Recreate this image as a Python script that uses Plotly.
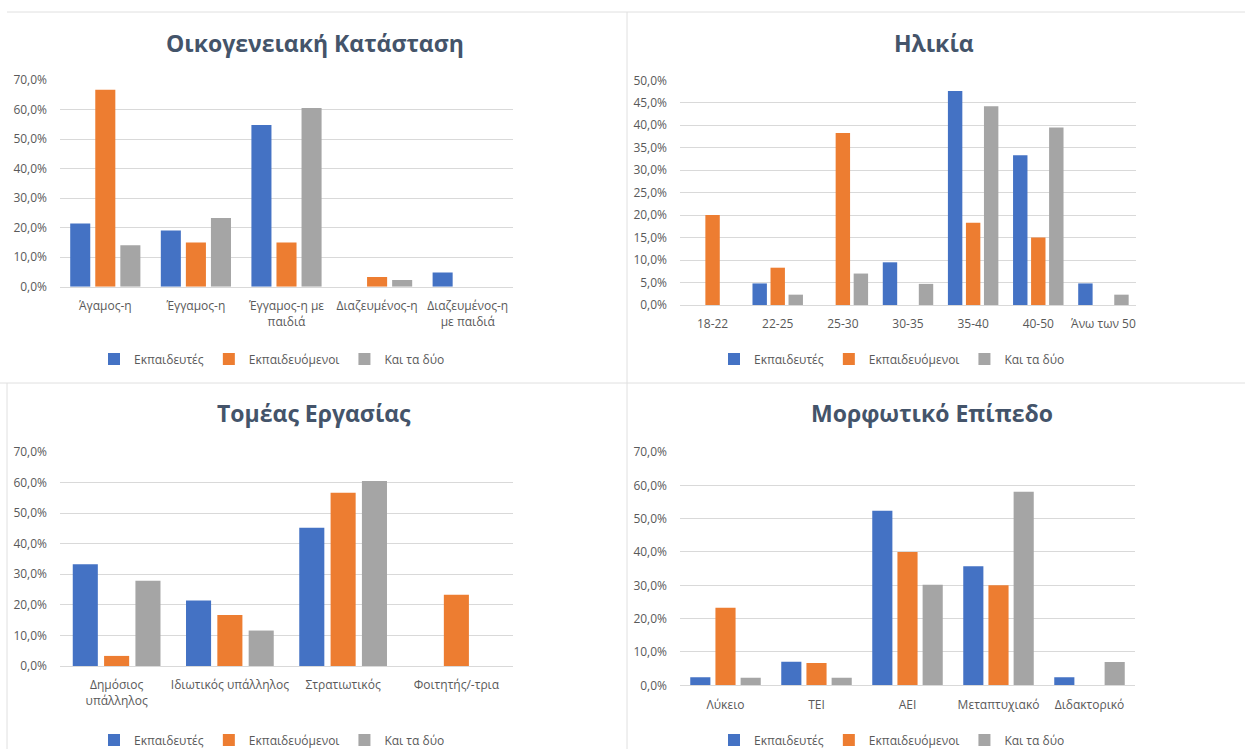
import plotly.graph_objects as go

W, H = 1245, 749

series_names = ["Εκπαιδευτές", "Εκπαιδευόμενοι", "Και τα δύο"]
colors = ["#4472C4", "#ED7D31", "#A5A5A5"]

# Chart 1: Οικογενειακή Κατάσταση
fam_title = "Οικογενειακή Κατάσταση"
fam_cats = ["Άγαμος-η", "Έγγαμος-η", "Έγγαμος-η με<br>παιδιά", "Διαζευμένος-η", "Διαζευμένος-η<br>με παιδιά"]
fam_teachers = [21.4, 19.0, 54.8, 0.0, 4.8]
fam_trainees = [66.7, 15.0, 15.0, 3.3, 0.0]
fam_both = [14.0, 23.3, 60.5, 2.3, 0.0]

# Chart 2: Ηλικία
age_title = "Ηλικία"
age_cats = ["18-22", "22-25", "25-30", "30-35", "35-40", "40-50", "Άνω των 50"]
age_teachers = [0.0, 4.8, 0.0, 9.5, 47.6, 33.3, 4.8]
age_trainees = [20.0, 8.3, 38.3, 0.0, 18.3, 15.0, 0.0]
age_both = [0.0, 2.3, 7.0, 4.7, 44.2, 39.5, 2.3]

# Chart 3: Τομέας Εργασίας
work_title = "Τομέας Εργασίας"
work_cats = ["Δημόσιος<br>υπάλληλος", "Ιδιωτικός υπάλληλος", "Στρατιωτικός", "Φοιτητής/-τρια"]
work_teachers = [33.3, 21.4, 45.2, 0.0]
work_trainees = [3.3, 16.7, 56.7, 23.3]
work_both = [27.9, 11.6, 60.5, 0.0]

# Chart 4: Μορφωτικό Επίπεδο
edu_title = "Μορφωτικό Επίπεδο"
edu_cats = ["Λύκειο", "ΤΕΙ", "ΑΕΙ", "Μεταπτυχιακό", "Διδακτορικό"]
edu_teachers = [2.4, 7.1, 52.4, 35.7, 2.4]
edu_trainees = [23.3, 6.7, 40.0, 30.0, 0.0]
edu_both = [2.3, 2.3, 30.2, 58.1, 7.0]

FONT = "Open Sans, Lato, sans-serif"
TICK_COLOR = "#595959"
GRID = "#D9D9D9"


def px_x(v):
    return min(1.0, max(0.0, v / W))


def px_y(v):
    return min(1.0, max(0.0, 1 - v / H))


# (title, cats, series, x0, x1, ytop, ybottom, ymax, dtick, title_xc, title_y, legend_xc, legend_y) in page pixels
panels = [
    (fam_title, fam_cats, [fam_teachers, fam_trainees, fam_both], 60, 513, 80, 286.7, 0.7, 0.1, 315, 43, 272, 359),
    (age_title, age_cats, [age_teachers, age_trainees, age_both], 680, 1136, 80.3, 305, 0.5, 0.05, 934, 43, 892, 359),
    (work_title, work_cats, [work_teachers, work_trainees, work_both], 60, 513, 452, 666, 0.7, 0.1, 314, 413, 272, 740),
    (edu_title, edu_cats, [edu_teachers, edu_trainees, edu_both], 680, 1135, 452, 685.3, 0.7, 0.1, 932, 413, 892, 740),
]

fig = go.Figure()
annotations = []
layout_kw = {}

for i, (title, cats, series, x0, x1, yt, yb, ymax, dtick, txc, ty, lxc, ly) in enumerate(panels):
    n = i + 1
    xa = "x" if n == 1 else f"x{n}"
    ya = "y" if n == 1 else f"y{n}"
    leg = "legend" if n == 1 else f"legend{n}"
    for name, col, vals in zip(series_names, colors, series):
        fig.add_trace(go.Bar(
            x=cats, y=[v / 100 for v in vals], name=name,
            marker=dict(color=col, line=dict(width=0)),
            xaxis=xa, yaxis=ya, legend=leg,
            hovertemplate="%{x}: %{y:.1%}<extra>" + name + "</extra>",
        ))
    xkey = "xaxis" if n == 1 else f"xaxis{n}"
    ykey = "yaxis" if n == 1 else f"yaxis{n}"
    layout_kw[xkey] = dict(
        domain=[px_x(x0), px_x(x1)], anchor=ya, type="category",
        showgrid=False, showline=True, linecolor=GRID, linewidth=1,
        ticks="", tickfont=dict(family=FONT, size=12, color=TICK_COLOR),
        ticklabelstandoff=8, fixedrange=True,
    )
    layout_kw[ykey] = dict(
        domain=[px_y(yb), px_y(yt)], anchor=xa, range=[0, ymax], dtick=dtick,
        tickformat=".1%", showgrid=True, gridcolor=GRID, gridwidth=1,
        zeroline=False, showline=False, ticks="",
        tickfont=dict(family=FONT, size=12, color=TICK_COLOR),
        ticklabelstandoff=12, fixedrange=True,
    )
    layout_kw[leg] = dict(
        orientation="h", x=px_x(lxc), y=px_y(ly), xanchor="center", yanchor="middle",
        font=dict(family=FONT, size=12, color=TICK_COLOR), bgcolor="rgba(0,0,0,0)",
        itemclick=False, itemdoubleclick=False, tracegroupgap=0,
    )
    annotations.append(dict(
        text="<b>" + title + "</b>", x=px_x(txc), y=px_y(ty), xref="paper", yref="paper",
        xanchor="center", yanchor="middle", showarrow=False,
        font=dict(family=FONT, size=23, color="#44546A"),
    ))

line_style = dict(color="#E0E0E0", width=1)
shapes = [
    dict(type="line", xref="paper", yref="paper", x0=px_x(7), x1=1, y0=px_y(12), y1=px_y(12), line=line_style),
    dict(type="line", xref="paper", yref="paper", x0=0, x1=1, y0=px_y(383), y1=px_y(383), line=line_style),
    dict(type="line", xref="paper", yref="paper", x0=px_x(627), x1=px_x(627), y0=px_y(12), y1=0, line=line_style),
    dict(type="line", xref="paper", yref="paper", x0=px_x(7), x1=px_x(7), y0=px_y(383), y1=0, line=line_style),
]

fig.update_layout(
    width=W, height=H, margin=dict(l=0, r=0, t=0, b=0, autoexpand=False),
    paper_bgcolor="white", plot_bgcolor="white",
    barmode="group", bargap=0.17, bargroupgap=0.2,
    separators=",.", showlegend=True,
    annotations=annotations, shapes=shapes,
    font=dict(family=FONT, color=TICK_COLOR),
    **layout_kw,
)

fig.write_html(
    "out.html", config={"displayModeBar": False},
    post_script="document.documentElement.style.margin='0';document.body.style.margin='0';document.body.style.overflow='hidden';",
)
